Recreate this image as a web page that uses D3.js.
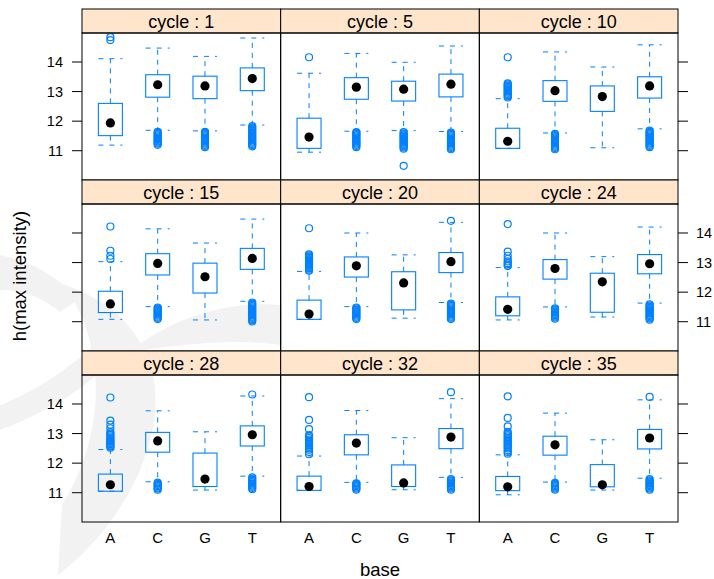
<!DOCTYPE html>
<html>
<head>
<meta charset="utf-8">
<script src="https://cdn.jsdelivr.net/npm/d3@7"></script>
<style>
  html, body { margin: 0; padding: 0; background: #fff; }
  svg { display: block; }
  text { font-family: "Liberation Sans", Arial, sans-serif; fill: #000; }
</style>
</head>
<body>
<svg id="chart" width="714" height="579"></svg>
<script>
// ---------- data ----------
const cycles = ["1", "5", "10", "15", "20", "24", "28", "32", "35"];
const bases = ["A", "C", "G", "T"];
const yTicks = [11, 12, 13, 14];

// per cycle (row of 4 bases: A, C, G, T)
const whiskerLow = [
  [11.19, 11.69, 11.67, 11.87],
  [10.95, 11.66, 11.68, 11.65],
  [11.08, 11.60, 11.10, 11.74],
  [11.08, 11.51, 11.06, 11.69],
  [11.08, 11.51, 11.12, 11.65],
  [11.06, 11.50, 11.16, 11.63],
  [11.05, 11.37, 11.09, 11.56],
  [11.08, 11.35, 11.10, 11.52],
  [10.93, 11.36, 11.09, 11.49]
];
const lowerHinge = [
  [11.51, 12.81, 12.76, 13.03],
  [11.08, 12.74, 12.68, 12.82],
  [11.08, 12.67, 12.33, 12.78],
  [11.31, 12.58, 11.97, 12.77],
  [11.08, 12.51, 11.40, 12.66],
  [11.20, 12.44, 11.32, 12.62],
  [11.05, 12.37, 11.21, 12.58],
  [11.08, 12.28, 11.21, 12.49],
  [11.07, 12.27, 11.20, 12.48]
];
const medians = [
  [11.94, 13.23, 13.19, 13.44],
  [11.46, 13.15, 13.08, 13.25],
  [11.32, 13.03, 12.83, 13.19],
  [11.60, 12.97, 12.52, 13.14],
  [11.26, 12.89, 12.31, 13.03],
  [11.42, 12.80, 12.35, 12.96],
  [11.27, 12.75, 11.46, 12.96],
  [11.21, 12.68, 11.33, 12.88],
  [11.20, 12.62, 11.27, 12.85]
];
const upperHinge = [
  [12.60, 13.57, 13.52, 13.80],
  [12.10, 13.47, 13.35, 13.59],
  [11.76, 13.37, 13.19, 13.50],
  [12.03, 13.30, 12.98, 13.48],
  [11.73, 13.19, 12.69, 13.34],
  [11.84, 13.10, 12.64, 13.27],
  [11.63, 13.04, 12.34, 13.26],
  [11.56, 12.96, 11.94, 13.17],
  [11.55, 12.91, 11.95, 13.14]
];
const whiskerHigh = [
  [14.11, 14.47, 14.19, 14.81],
  [13.62, 14.29, 13.99, 14.54],
  [12.76, 14.34, 13.83, 14.58],
  [13.03, 14.14, 13.66, 14.47],
  [12.70, 14.00, 13.26, 14.36],
  [12.83, 14.00, 13.20, 14.20],
  [12.46, 13.77, 13.06, 14.27],
  [12.24, 13.78, 12.86, 14.18],
  [12.28, 13.69, 12.79, 14.14]
];
const outliers = [
  [ // cycle 1
    [14.74, 14.84],
    [11.20, 11.24, 11.28, 11.32, 11.36, 11.40, 11.44, 11.48, 11.52, 11.56, 11.60, 11.64],
    [11.12, 11.16, 11.20, 11.24, 11.28, 11.32, 11.36, 11.40, 11.44, 11.48, 11.52, 11.56, 11.60, 11.64],
    [11.15, 11.19, 11.23, 11.27, 11.31, 11.35, 11.39, 11.43, 11.47, 11.51, 11.55, 11.59, 11.63, 11.67, 11.71, 11.75, 11.79, 11.83]
  ],
  [ // cycle 5
    [14.16],
    [11.12, 11.16, 11.20, 11.24, 11.28, 11.32, 11.36, 11.40, 11.44, 11.48, 11.52, 11.56, 11.60, 11.63],
    [10.49, 11.07, 11.11, 11.15, 11.19, 11.23, 11.27, 11.31, 11.35, 11.39, 11.43, 11.47, 11.51, 11.55, 11.59, 11.63],
    [11.05, 11.09, 11.13, 11.17, 11.21, 11.25, 11.29, 11.33, 11.37, 11.41, 11.45, 11.49, 11.53, 11.57, 11.61]
  ],
  [ // cycle 10
    [12.80, 12.84, 12.88, 12.92, 12.96, 13.00, 13.04, 13.08, 13.12, 13.16, 13.20, 13.24, 13.28, 14.16],
    [11.05, 11.09, 11.13, 11.17, 11.21, 11.25, 11.29, 11.33, 11.37, 11.41, 11.45, 11.49, 11.53, 11.57],
    [],
    [11.12, 11.16, 11.20, 11.24, 11.28, 11.32, 11.36, 11.40, 11.44, 11.48, 11.52, 11.56, 11.60, 11.64, 11.68]
  ],
  [ // cycle 15
    [13.12, 13.23, 13.40, 14.22],
    [11.09, 11.13, 11.17, 11.21, 11.25, 11.29, 11.33, 11.37, 11.41, 11.45, 11.48],
    [],
    [11.01, 11.05, 11.09, 11.13, 11.17, 11.21, 11.25, 11.29, 11.33, 11.37, 11.41, 11.45, 11.49, 11.53, 11.57, 11.61, 11.65]
  ],
  [ // cycle 20
    [12.72, 12.76, 12.80, 12.84, 12.88, 12.92, 12.96, 13.00, 13.04, 13.08, 13.12, 13.16, 13.20, 13.24, 13.28, 14.16],
    [11.09, 11.13, 11.17, 11.21, 11.25, 11.29, 11.33, 11.37, 11.41, 11.45, 11.48],
    [],
    [11.09, 11.13, 11.17, 11.21, 11.25, 11.29, 11.33, 11.37, 11.41, 11.45, 11.49, 11.53, 11.57, 11.61, 14.41]
  ],
  [ // cycle 24
    [12.88, 12.93, 12.98, 13.04, 13.12, 13.23, 13.37, 14.30],
    [11.10, 11.14, 11.18, 11.22, 11.26, 11.30, 11.34, 11.38, 11.42, 11.45],
    [],
    [11.07, 11.11, 11.15, 11.19, 11.23, 11.27, 11.31, 11.35, 11.39, 11.43, 11.47, 11.51, 11.55, 11.59]
  ],
  [ // cycle 28
    [12.52, 12.56, 12.60, 12.64, 12.68, 12.72, 12.76, 12.80, 12.85, 12.90, 12.95, 13.00, 13.05, 13.18, 13.30, 13.44, 14.22],
    [11.10, 11.14, 11.18, 11.22, 11.26, 11.30, 11.34],
    [],
    [11.12, 11.16, 11.20, 11.24, 11.28, 11.32, 11.36, 11.40, 11.44, 11.48, 11.52, 14.32]
  ],
  [ // cycle 32
    [12.30, 12.38, 12.45, 12.50, 12.55, 12.60, 12.65, 12.70, 12.75, 12.80, 12.85, 12.90, 12.95, 13.15, 13.46, 14.23],
    [11.10, 11.14, 11.18, 11.22, 11.26, 11.30, 11.32],
    [],
    [11.10, 11.14, 11.18, 11.22, 11.26, 11.30, 11.34, 11.38, 11.42, 11.46, 14.40]
  ],
  [ // cycle 35
    [12.32, 12.38, 12.44, 12.50, 12.55, 12.60, 12.65, 12.70, 12.75, 12.80, 12.85, 12.90, 12.95, 13.00, 13.06, 13.24, 13.53, 14.26],
    [11.10, 11.14, 11.18, 11.22, 11.26, 11.30, 11.33],
    [],
    [11.10, 11.14, 11.18, 11.22, 11.26, 11.30, 11.34, 11.38, 11.42, 11.46, 14.24]
  ]
];

// ---------- layout ----------
const svg = d3.select("#chart");
const leftX = 82, rightX = 678, topY = 9;
const nCol = 3, nRow = 3;
const colW = (rightX - leftX) / nCol;
const stripH = 24, panelH = 147, rowH = stripH + panelH;
const blue = "#0080ff";
const stripFill = "#ffe5cc";

// faint background watermark
const wm = svg.append("g").attr("fill", "#f2f2f2");
wm.append("path").attr("d", "M58,575 C128,522 168,432 152,372 C142,332 112,300 62,284 C102,332 112,425 62,505 Z");
wm.append("path").attr("d", "M0,430 C40,415 75,395 100,372 L100,340 C70,368 35,392 0,405 Z");
wm.append("path").attr("d", "M130,352 C170,318 230,300 282,305 L282,345 C235,338 180,345 130,352 Z");
wm.append("path").attr("d", "M0,255 C35,262 62,280 78,300 L60,312 C40,295 20,290 0,290 Z");

const x = d3.scaleLinear().domain([0.4, 4.6]).range([0, colW]);
const y = d3.scaleLinear().domain([10.01, 14.98]).range([panelH, 0]);
const boxW = 24;

cycles.forEach((cyc, i) => {
  const col = i % nCol, row = Math.floor(i / nCol);
  const px = leftX + col * colW;
  const py = topY + row * rowH;
  const g = svg.append("g").attr("transform", `translate(${px},${py})`);

  // strip
  g.append("rect").attr("x", 0).attr("y", 0).attr("width", colW).attr("height", stripH)
    .attr("fill", stripFill).attr("stroke", "#000").attr("stroke-width", 1);
  g.append("text").attr("x", colW / 2).attr("y", 19).attr("text-anchor", "middle")
    .style("font-size", "18px").text(`cycle : ${cyc}`);

  const p = g.append("g").attr("transform", `translate(0,${stripH})`);

  bases.forEach((b, j) => {
    const cx = x(j + 1);
    const lw = whiskerLow[i][j], q1 = lowerHinge[i][j], md = medians[i][j],
          q3 = upperHinge[i][j], hw = whiskerHigh[i][j];
    const dash = "5,5";
    p.append("line").attr("x1", cx).attr("x2", cx).attr("y1", y(q3)).attr("y2", y(hw))
      .attr("stroke", blue).attr("stroke-dasharray", dash);
    p.append("line").attr("x1", cx).attr("x2", cx).attr("y1", y(q1)).attr("y2", y(lw))
      .attr("stroke", blue).attr("stroke-dasharray", dash);
    [hw, lw].forEach(v => {
      p.append("line").attr("x1", cx - boxW / 2).attr("x2", cx + boxW / 2)
        .attr("y1", y(v)).attr("y2", y(v))
        .attr("stroke", blue).attr("stroke-dasharray", "5,6");
    });
    p.append("rect").attr("x", cx - boxW / 2).attr("y", y(q3))
      .attr("width", boxW).attr("height", y(q1) - y(q3))
      .attr("fill", "none").attr("stroke", blue).attr("stroke-width", 1.1);
    p.selectAll(null).data(outliers[i][j]).enter().append("circle")
      .attr("cx", cx).attr("cy", d => y(d)).attr("r", 3.5)
      .attr("fill", "none").attr("stroke", blue).attr("stroke-width", 1.2);
    p.append("circle").attr("cx", cx).attr("cy", y(md)).attr("r", 4.6).attr("fill", "#000");
  });

  p.append("rect").attr("x", 0).attr("y", 0).attr("width", colW).attr("height", panelH)
    .attr("fill", "none").attr("stroke", "#000").attr("stroke-width", 1);

  if (col === 0) {
    const ax = p.append("g");
    yTicks.forEach(t => {
      ax.append("line").attr("x1", -10).attr("x2", 0).attr("y1", y(t)).attr("y2", y(t))
        .attr("stroke", "#000");
      if (row !== 1) {
        ax.append("text").attr("x", -19).attr("y", y(t) + 5.2).attr("text-anchor", "end")
          .style("font-size", "14.5px").text(t);
      }
    });
  }
  if (col === nCol - 1) {
    const ax = p.append("g");
    yTicks.forEach(t => {
      ax.append("line").attr("x1", colW).attr("x2", colW + 10).attr("y1", y(t)).attr("y2", y(t))
        .attr("stroke", "#000");
      if (row === 1) {
        ax.append("text").attr("x", colW + 18).attr("y", y(t) + 5.2).attr("text-anchor", "start")
          .style("font-size", "14.5px").text(t);
      }
    });
  }
  if (row === nRow - 1) {
    bases.forEach((b, j) => {
      p.append("text").attr("x", x(j + 1)).attr("y", panelH + 21).attr("text-anchor", "middle")
        .style("font-size", "15px").text(b);
    });
  }
});

svg.append("text").attr("transform", `translate(26,276) rotate(-90)`)
  .attr("text-anchor", "middle").style("font-size", "18.5px").text("h(max intensity)");
svg.append("text").attr("x", (leftX + rightX) / 2).attr("y", 576).attr("text-anchor", "middle")
  .style("font-size", "18.5px").text("base");
</script>
</body>
</html>
